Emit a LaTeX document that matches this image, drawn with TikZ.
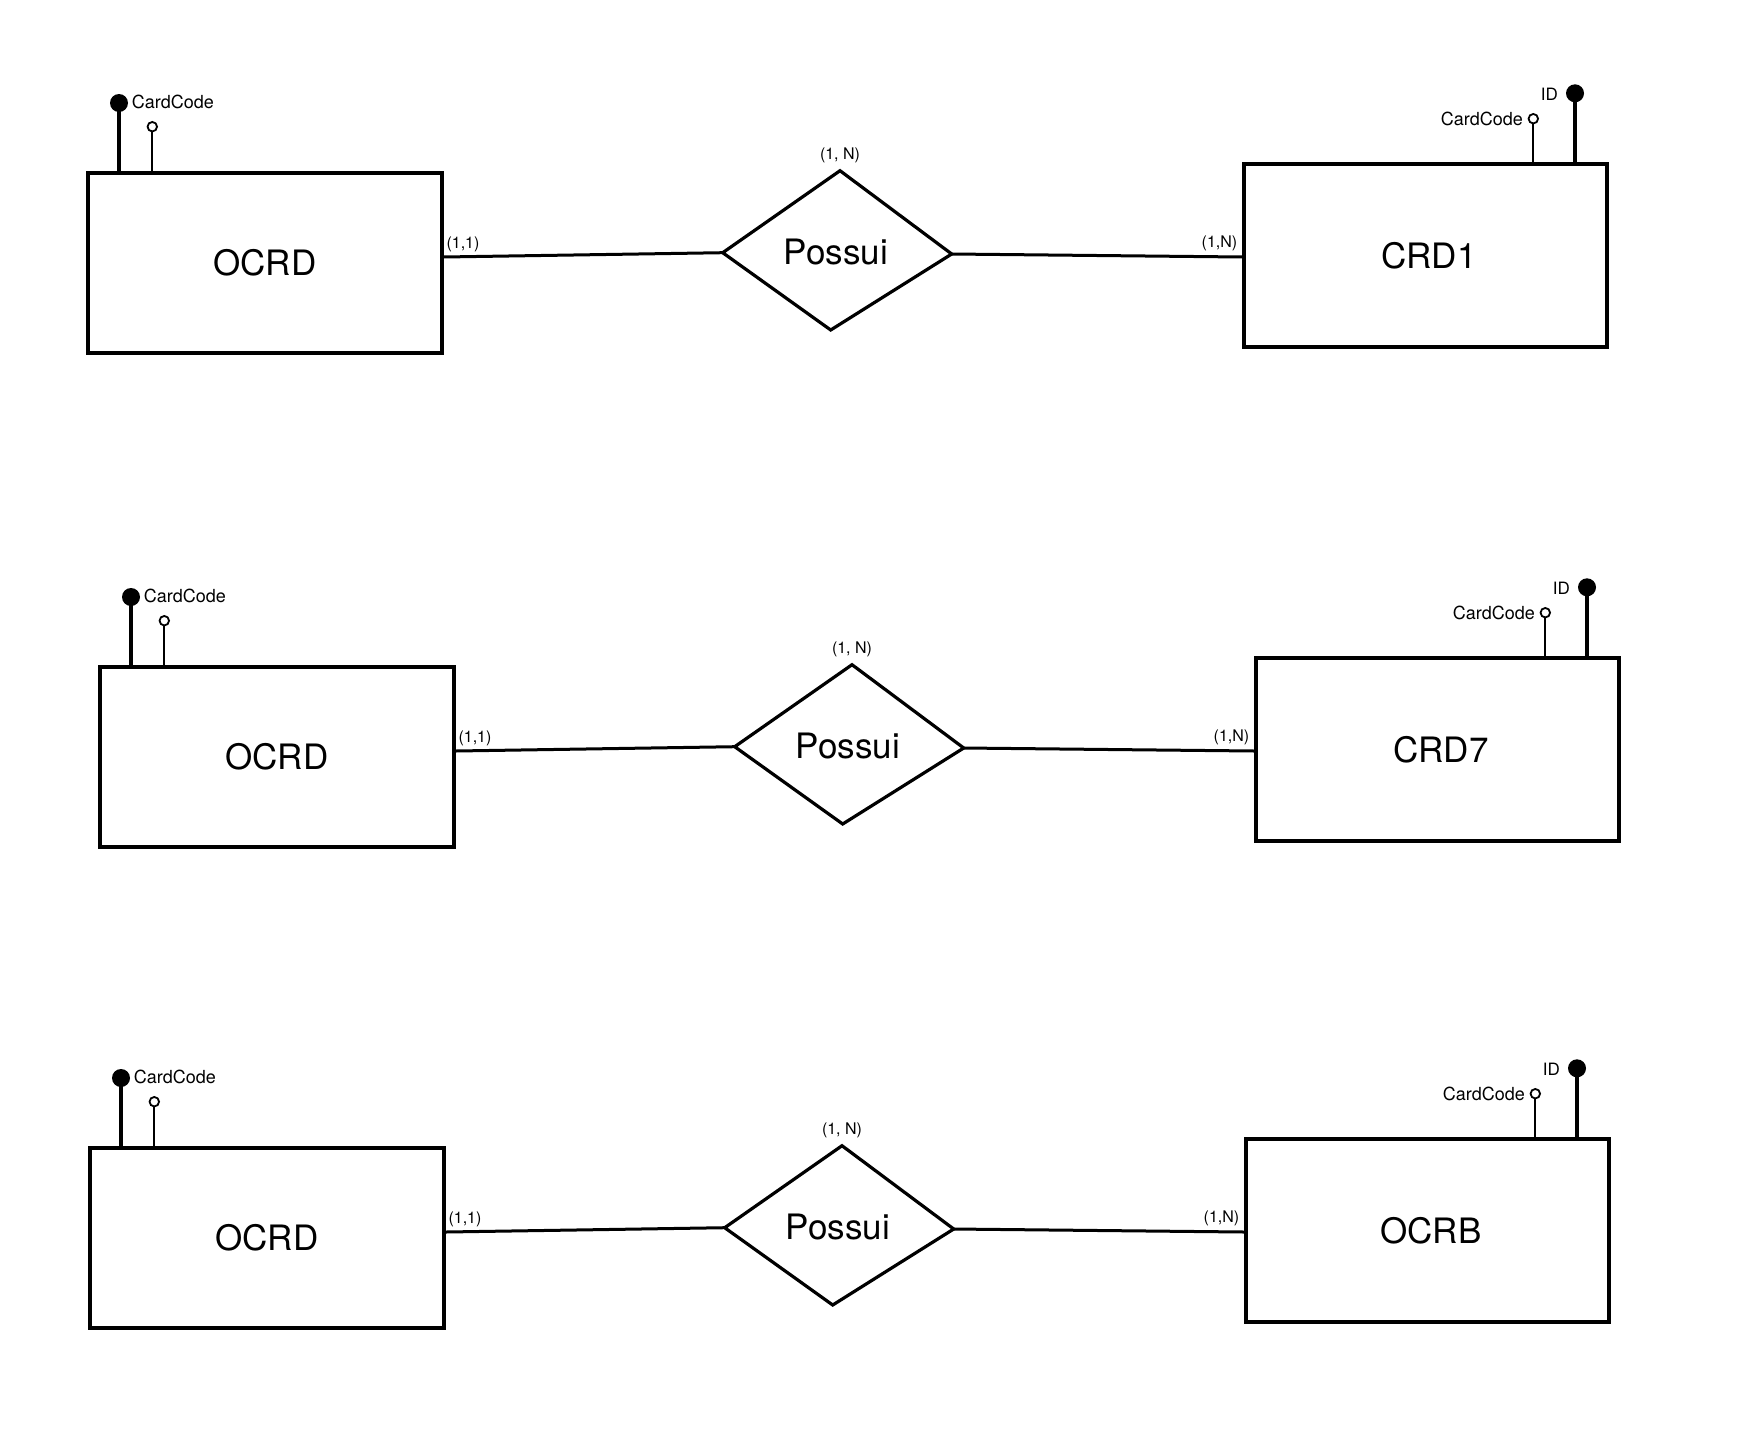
\documentclass[tikz,border=0pt]{standalone}
\usepackage{fontspec}
\setmainfont{TeX Gyre Heros}
\tikzset{
  entity/.style={draw, line width=3.2pt, inner sep=0pt, font=\fontsize{35}{42}\selectfont},
  reltext/.style={inner sep=0pt, font=\fontsize{35}{42}\selectfont},
  relshape/.style={draw, line width=3.2pt, line join=miter},
  conn/.style={draw, line width=3pt},
  card/.style={inner sep=0pt, font=\fontsize{16}{19}\selectfont},
  attrlbl/.style={inner sep=0pt, font=\fontsize{18}{21}\selectfont},
  idlbl/.style={inner sep=0pt, font=\fontsize{17}{20}\selectfont},
  keydot/.style={circle, fill=black, inner sep=0pt, minimum size=18pt},
  attrdot/.style={circle, draw, fill=white, line width=1.8pt, inner sep=0pt, minimum size=9.5pt},
  keystem/.style={draw, line width=3.4pt},
  attrstem/.style={draw, line width=2pt}
}
\newcommand{\errow}[4]{%
  \begin{scope}[shift={(#1,#2)}]
    % left entity
    \node[entity, minimum width=354pt, minimum height=180pt] (#4L) at (265,263) {OCRD};
    \node[keydot] (#4Lk) at (119,103) {};
    \draw[keystem] (#4Lk.center) -- (#4Lk.center |- #4L.north);
    \node[attrlbl, anchor=west] (#4Lkt) at (131.7,102) {CardCode};
    \draw[attrstem] (#4L.north -| 152.3,0) -- (152.3,126.7);
    \node[attrdot] (#4La) at (152.3,126.7) {};
    % right entity
    \node[entity, minimum width=363pt, minimum height=183pt] (#4R) at (1425.5,255.5) {\hspace*{7pt}#3};
    \node[keydot] (#4Rk) at (1575,93.3) {};
    \draw[keystem] (#4Rk.center) -- (#4Rk.center |- #4R.north);
    \node[idlbl, anchor=east] (#4Rkt) at (1558,94) {ID};
    \draw[attrstem] (#4R.north -| 1533.3,0) -- (1533.3,118.7);
    \node[attrdot] (#4Ra) at (1533.3,118.7) {};
    \node[attrlbl, anchor=east] (#4Rat) at (1523,119) {CardCode};
    % relationship
    \coordinate (#4dl) at (722.7,252.7);
    \coordinate (#4dt) at (840,170.7);
    \coordinate (#4dr) at (951.7,254);
    \coordinate (#4db) at (830.7,330);
    \draw[relshape] (#4dl) -- (#4dt) -- (#4dr) -- (#4db) -- cycle;
    \node[reltext] (#4dn) at (836,252) {Possui};
    % connectors
    \draw[conn] ([yshift=6pt]#4L.east) -- (#4dl);
    \draw[conn] (#4dr) -- ([yshift=-1.5pt]#4R.west);
    % cardinalities
    \node[card] (#4c1) at (463,244) {(1,1)};
    \node[card] (#4c2) at (1219.5,243) {(1,N)};
    \node[card] (#4c3) at (840,155) {(1, N)};
  \end{scope}%
}
\begin{document}
\begin{tikzpicture}[x=1pt, y=-1pt]
  \fill[white] (0,0) rectangle (1739,1448);
  \useasboundingbox (0,0) rectangle (1739,1448);
  \errow{0}{0}{CRD1}{ra}
  \errow{12}{494}{CRD7}{rb}
  \errow{2}{975}{OCRB}{rc}
\end{tikzpicture}
\end{document}
